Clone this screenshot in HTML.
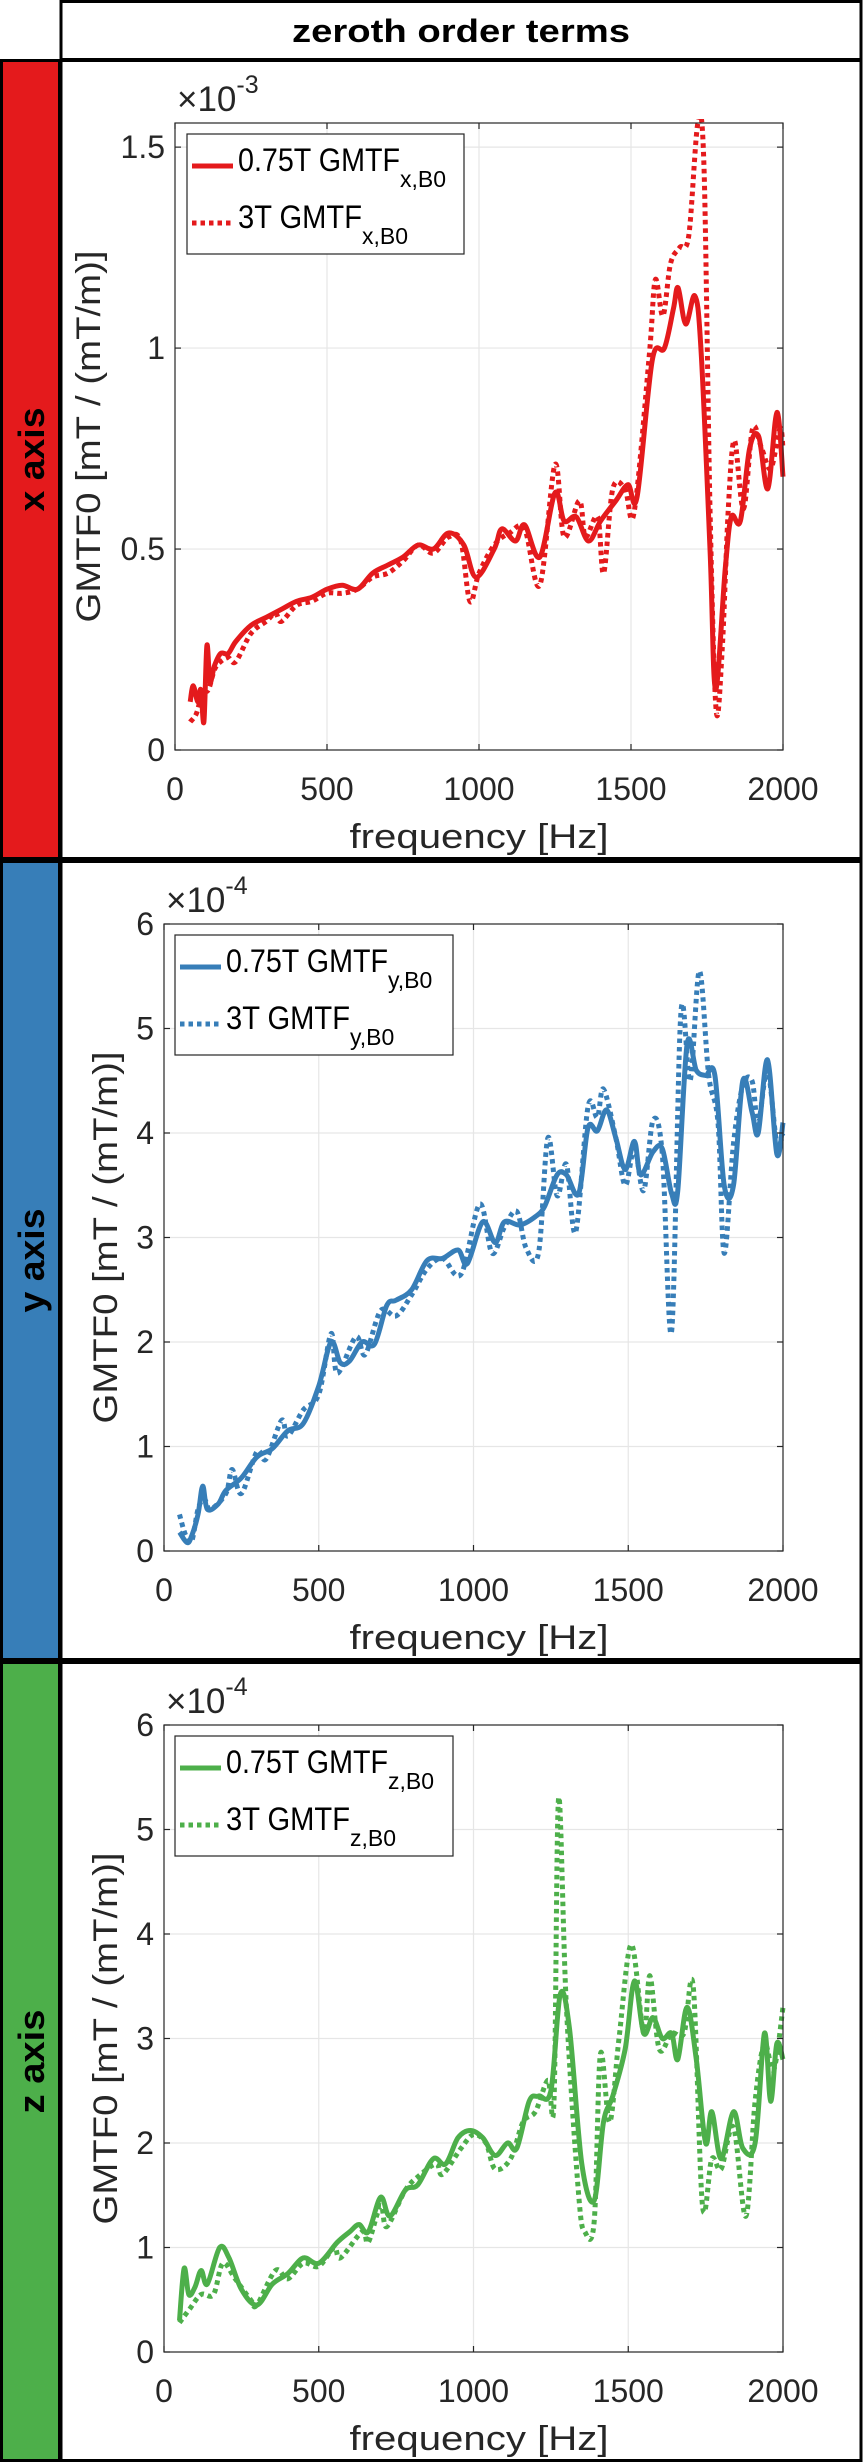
<!DOCTYPE html>
<html><head><meta charset="utf-8">
<style>
html,body{margin:0;padding:0;background:#fff;}
svg{display:block;font-family:"Liberation Sans",sans-serif;}
</style></head>
<body>
<svg id="root" width="863" height="2463" viewBox="0 0 863 2463" xmlns="http://www.w3.org/2000/svg">
  <rect x="0" y="0" width="863" height="2463" fill="#fff"/>
  <g>
    <rect x="61" y="1.5" width="800" height="58" fill="#fff" stroke="#000" stroke-width="3"/>
    <text x="461" y="42" text-anchor="middle" font-size="32" font-weight="bold" textLength="338" lengthAdjust="spacingAndGlyphs">zeroth order terms</text>
  </g>
  <g id="panels"></g>
</svg>
<script>
// ---------- data ----------
const xFreqSolid = [50,60,75,85,95,105,115,130,150,175,200,250,300,350,400,450,500,550,600,650,700,750,800,850,900,950,990,1050,1075,1120,1150,1200,1250,1280,1320,1360,1400,1450,1490,1520,1570,1610,1640,1655,1680,1710,1730,1760,1778,1810,1830,1860,1890,1920,1950,1980,2000];
const xValSolid = [0.12,0.16,0.12,0.15,0.07,0.26,0.17,0.21,0.24,0.24,0.27,0.31,0.33,0.35,0.37,0.38,0.40,0.41,0.40,0.44,0.46,0.48,0.51,0.50,0.54,0.51,0.43,0.50,0.55,0.52,0.56,0.48,0.64,0.57,0.58,0.52,0.57,0.62,0.66,0.63,0.97,1.00,1.10,1.15,1.06,1.13,1.00,0.50,0.15,0.45,0.58,0.57,0.75,0.78,0.65,0.84,0.68];
const xFreqDot = [50,70,90,110,130,150,175,200,250,300,330,350,400,450,500,550,600,650,700,750,800,850,900,940,970,1000,1050,1100,1150,1200,1250,1280,1330,1350,1390,1410,1440,1480,1510,1560,1580,1605,1630,1660,1690,1720,1740,1760,1780,1800,1820,1840,1870,1900,1930,1960,1990,2000];
const xValDot = [0.07,0.09,0.14,0.15,0.20,0.22,0.23,0.22,0.29,0.32,0.34,0.32,0.36,0.37,0.39,0.39,0.40,0.43,0.44,0.47,0.51,0.49,0.53,0.52,0.37,0.44,0.51,0.54,0.55,0.41,0.71,0.53,0.62,0.53,0.58,0.44,0.65,0.65,0.59,0.98,1.17,1.08,1.21,1.25,1.28,1.56,1.45,0.60,0.10,0.25,0.60,0.77,0.60,0.80,0.75,0.70,0.80,0.75];

const yFreqSolid = [50,75,90,110,125,140,175,200,250,300,350,400,450,500,540,570,600,640,680,720,750,800,850,900,950,980,1030,1070,1100,1150,1200,1230,1270,1300,1340,1370,1400,1430,1460,1490,1520,1540,1580,1610,1640,1660,1690,1720,1750,1780,1810,1840,1870,1900,1920,1950,1980,2000];
const yValSolid = [0.18,0.08,0.15,0.35,0.62,0.40,0.45,0.58,0.70,0.90,0.98,1.15,1.22,1.58,2.00,1.80,1.82,2.00,1.98,2.35,2.40,2.50,2.78,2.80,2.88,2.75,3.15,2.95,3.15,3.12,3.20,3.30,3.60,3.60,3.42,4.05,4.02,4.22,3.95,3.65,3.92,3.60,3.82,3.85,3.42,3.45,4.85,4.60,4.55,4.55,3.50,3.50,4.50,4.20,4.00,4.70,3.80,4.10];
const yFreqDot = [50,70,90,110,130,150,200,220,250,300,330,380,400,450,500,540,560,620,650,700,750,800,850,900,960,1020,1060,1100,1140,1170,1210,1240,1270,1300,1330,1370,1400,1420,1460,1490,1520,1550,1580,1610,1640,1670,1700,1730,1760,1790,1810,1840,1870,1900,1920,1950,1980,2000];
const yValDot = [0.35,0.15,0.10,0.40,0.50,0.40,0.55,0.78,0.55,0.95,0.88,1.25,1.10,1.35,1.50,2.08,1.70,2.05,1.88,2.30,2.25,2.45,2.70,2.80,2.65,3.32,2.85,3.10,3.25,2.90,2.85,3.95,3.40,3.70,3.05,4.25,4.15,4.42,3.95,3.50,3.85,3.45,4.12,3.80,2.10,5.15,4.50,5.55,4.55,4.10,2.85,3.90,4.45,4.50,4.10,4.60,3.90,4.00];

const zFreqSolid = [50,65,80,100,120,140,180,210,250,300,350,400,450,500,560,600,630,660,700,730,780,820,870,910,950,990,1030,1070,1110,1140,1180,1210,1250,1280,1310,1350,1390,1420,1450,1490,1520,1550,1580,1610,1640,1660,1690,1720,1750,1770,1800,1840,1870,1910,1940,1960,1980,2000];
const zValSolid = [0.30,0.80,0.55,0.62,0.78,0.65,1.00,0.90,0.60,0.45,0.65,0.75,0.90,0.85,1.05,1.15,1.22,1.15,1.48,1.30,1.55,1.60,1.85,1.80,2.05,2.12,2.05,1.88,2.00,1.95,2.40,2.45,2.50,3.42,3.10,1.80,1.45,2.20,2.45,2.90,3.55,3.05,3.20,3.00,3.05,2.80,3.30,2.80,2.00,2.30,1.85,2.30,1.95,2.00,3.05,2.40,2.95,2.80];
const zFreqDot = [50,80,120,160,190,230,280,300,360,400,450,500,550,570,640,660,700,720,780,830,880,900,960,1000,1040,1070,1120,1160,1200,1240,1260,1275,1300,1340,1360,1390,1410,1440,1470,1510,1550,1570,1600,1640,1680,1710,1740,1770,1800,1840,1880,1910,1940,1970,2000];
const zValDot = [0.28,0.40,0.55,0.55,0.85,0.70,0.50,0.45,0.78,0.70,0.85,0.82,1.00,0.90,1.15,1.05,1.40,1.20,1.55,1.70,1.80,1.70,1.95,2.08,2.00,1.75,1.85,2.20,2.30,2.60,2.40,5.30,3.30,1.50,1.15,1.25,2.85,2.20,3.00,3.90,3.05,3.60,2.90,3.05,3.05,3.50,1.40,1.85,1.75,2.15,1.30,2.40,2.95,2.70,3.30];

const xTicksX = [0,500,1000,1500,2000];
const xTickLabels = ["0","500","1000","1500","2000"];
const yTicksPanelX = [0,0.5,1,1.5];
const yTickLabelsPanelX = ["0","0.5","1","1.5"];
const yTicksPanelYZ = [0,1,2,3,4,5,6];
const yTickLabelsPanelYZ = ["0","1","2","3","4","5","6"];

// ---------- drawing ----------
const NS = "http://www.w3.org/2000/svg";
const root = document.getElementById('panels');
function el(tag, attrs, parent){
  const e = document.createElementNS(NS, tag);
  for (const k in attrs) e.setAttribute(k, attrs[k]);
  (parent||root).appendChild(e);
  return e;
}

function panel(cfg){
  const g = el('g', {});
  
  
  const bar = el('rect', {x:1.5, y:cfg.top+1.5, width:58, height:cfg.bottom-cfg.top-3, fill:cfg.color, stroke:'#000', 'stroke-width':3}, g);
  
  
  const cy = (cfg.top+cfg.bottom)/2;
  const sl = el('text', {x:0, y:0, transform:`translate(44,${cy}) rotate(-90)`, 'text-anchor':'middle', 'font-size':36, 'font-weight':'bold', fill:'#000', textLength:104, lengthAdjust:'spacingAndGlyphs'}, g);
  sl.textContent = cfg.sideLabel;
  
  
  const box = el('rect', {x:61, y:cfg.top+1.5, width:800, height:cfg.bottom-cfg.top-3, fill:'none', stroke:'#000', 'stroke-width':3}, g);
  
  

  const L = cfg.left, R = 783, T = cfg.top+64, B = cfg.top+691;
  const xs = v => L + (v-0)/2000*(R-L);
  const ys = v => B - v/cfg.ymax*(B-T);

  const grid = el('g', {stroke:'#e6e6e6', 'stroke-width':1.2}, g);
  
  
  xTicksX.forEach(t => { if (t>0 && t<2000) el('line',{x1:xs(t),x2:xs(t),y1:T,y2:B},grid); });
  cfg.yticks.forEach(t => { if (t>0 && ys(t)>T+1) el('line',{x1:L,x2:R,y1:ys(t),y2:ys(t)},grid); });

  const clip = el('clipPath', {id:'clip-'+cfg.name}, g);
  el('rect', {x:L, y:T-4, width:R-L+4, height:B-T+8}, clip);
  function path(fx, fy){
    // Catmull-Rom smoothing through the data points
    const P = fx.map((f,i)=>[xs(f), ys(fy[i])]);
    let d = 'M' + P[0][0].toFixed(1) + ',' + P[0][1].toFixed(1);
    for (let i=0;i<P.length-1;i++){
      const p0 = P[Math.max(0,i-1)], p1 = P[i], p2 = P[i+1], p3 = P[Math.min(P.length-1,i+2)];
      const c1 = [p1[0]+(p2[0]-p0[0])/6, p1[1]+(p2[1]-p0[1])/6];
      const c2 = [p2[0]-(p3[0]-p1[0])/6, p2[1]-(p3[1]-p1[1])/6];
      d += 'C' + c1[0].toFixed(1)+','+c1[1].toFixed(1)+' '+c2[0].toFixed(1)+','+c2[1].toFixed(1)+' '+p2[0].toFixed(1)+','+p2[1].toFixed(1);
    }
    return d;
  }
  const s1 = el('path', {d:path(cfg.fS, cfg.vS), fill:'none', stroke:cfg.color, 'stroke-width':5, 'stroke-linejoin':'round', 'clip-path':`url(#clip-${cfg.name})`}, g);
  
  
  const s2 = el('path', {d:path(cfg.fD, cfg.vD), fill:'none', stroke:cfg.color, 'stroke-width':5, 'stroke-dasharray':'4.5 4', 'clip-path':`url(#clip-${cfg.name})`}, g);
  
  

  const ax = el('rect', {x:L, y:T, width:R-L, height:B-T, fill:'none', stroke:'#262626', 'stroke-width':1.2}, g);
  
  
  const tk = el('g', {stroke:'#262626', 'stroke-width':1.2}, g);
  
  
  xTicksX.forEach(t => { el('line',{x1:xs(t),x2:xs(t),y1:B,y2:B-6},tk); el('line',{x1:xs(t),x2:xs(t),y1:T,y2:T+6},tk); });
  cfg.yticks.forEach(t => { el('line',{x1:L,x2:L+6,y1:ys(t),y2:ys(t)},tk); el('line',{x1:R,x2:R-6,y1:ys(t),y2:ys(t)},tk); });

  xTicksX.forEach((t,i) => {
    const tl = el('text', {x:xs(t), y:B+50, 'text-anchor':'middle', 'font-size':32, fill:'#262626'}, g);
    tl.textContent = xTickLabels[i];
    
    
  });
  cfg.yticks.forEach((t,i) => {
    const tl = el('text', {x:L-10, y:ys(t)+11, 'text-anchor':'end', 'font-size':32, fill:'#262626'}, g);
    tl.textContent = cfg.ylabels[i];
    
    
  });
  const ex = el('text', {x:L+2, y:T-12, 'font-size':35, fill:'#262626'}, g);
  
  
  ex.innerHTML = '×10<tspan font-size="25" dy="-18">' + cfg.exp + '</tspan>';

  const xl = el('text', {x:(175+783)/2, y:B+98, 'text-anchor':'middle', 'font-size':34, fill:'#262626', textLength:259, lengthAdjust:'spacingAndGlyphs'}, g);
  xl.textContent = 'frequency [Hz]';
  
  
  const ylx = cfg.ylabX, yly = (T+B)/2;
  const yl = el('text', {x:0, y:0, transform:`translate(${ylx},${yly}) rotate(-90)`, 'text-anchor':'middle', 'font-size':34, fill:'#262626', textLength:372, lengthAdjust:'spacingAndGlyphs'}, g);
  yl.textContent = 'GMTF0 [mT / (mT/m)]';
  
  

  const lg = el('g', {}, g);
  
  
  const lx = cfg.legX, lw = cfg.legW, lt = T+11;
  el('rect', {x:lx, y:lt, width:lw, height:120, fill:'#fff', stroke:'#262626', 'stroke-width':1.2}, lg);
  const e1 = el('line', {x1:lx+5, x2:lx+46, y1:lt+32, y2:lt+32, stroke:cfg.color, 'stroke-width':5}, lg);
  
  
  const e2 = el('line', {x1:lx+5, x2:lx+46, y1:lt+89, y2:lt+89, stroke:cfg.color, 'stroke-width':5, 'stroke-dasharray':'4.5 4'}, lg);
  
  
  const t1 = el('text', {x:lx+51, y:lt+37, 'font-size':32, fill:'#000'}, lg);
  t1.innerHTML = '<tspan textLength="162" lengthAdjust="spacingAndGlyphs">0.75T GMTF</tspan><tspan font-size="23" dy="16">' + cfg.sub + '</tspan>';
  
  
  const t2 = el('text', {x:lx+51, y:lt+94, 'font-size':32, fill:'#000'}, lg);
  t2.innerHTML = '<tspan textLength="124" lengthAdjust="spacingAndGlyphs">3T GMTF</tspan><tspan font-size="23" dy="16">' + cfg.sub + '</tspan>';
  
  
}

panel({name:'x-axis', top:59, bottom:860, color:'#e41a1c', sideLabel:'x axis', left:175, ymax:1.56,
  yticks:yTicksPanelX, ylabels:yTickLabelsPanelX, exp:'-3', ylabX:100, legX:187, legW:277, sub:'x,B0',
  fS:xFreqSolid, vS:xValSolid, fD:xFreqDot, vD:xValDot});
panel({name:'y-axis', top:860, bottom:1661, color:'#377eb8', sideLabel:'y axis', left:164, ymax:6,
  yticks:yTicksPanelYZ, ylabels:yTickLabelsPanelYZ, exp:'-4', ylabX:117, legX:175, legW:278, sub:'y,B0',
  fS:yFreqSolid, vS:yValSolid, fD:yFreqDot, vD:yValDot});
panel({name:'z-axis', top:1661, bottom:2462, color:'#4daf4a', sideLabel:'z axis', left:164, ymax:6,
  yticks:yTicksPanelYZ, ylabels:yTickLabelsPanelYZ, exp:'-4', ylabX:117, legX:175, legW:278, sub:'z,B0',
  fS:zFreqSolid, vS:zValSolid, fD:zFreqDot, vD:zValDot});
</script>
</body></html>
